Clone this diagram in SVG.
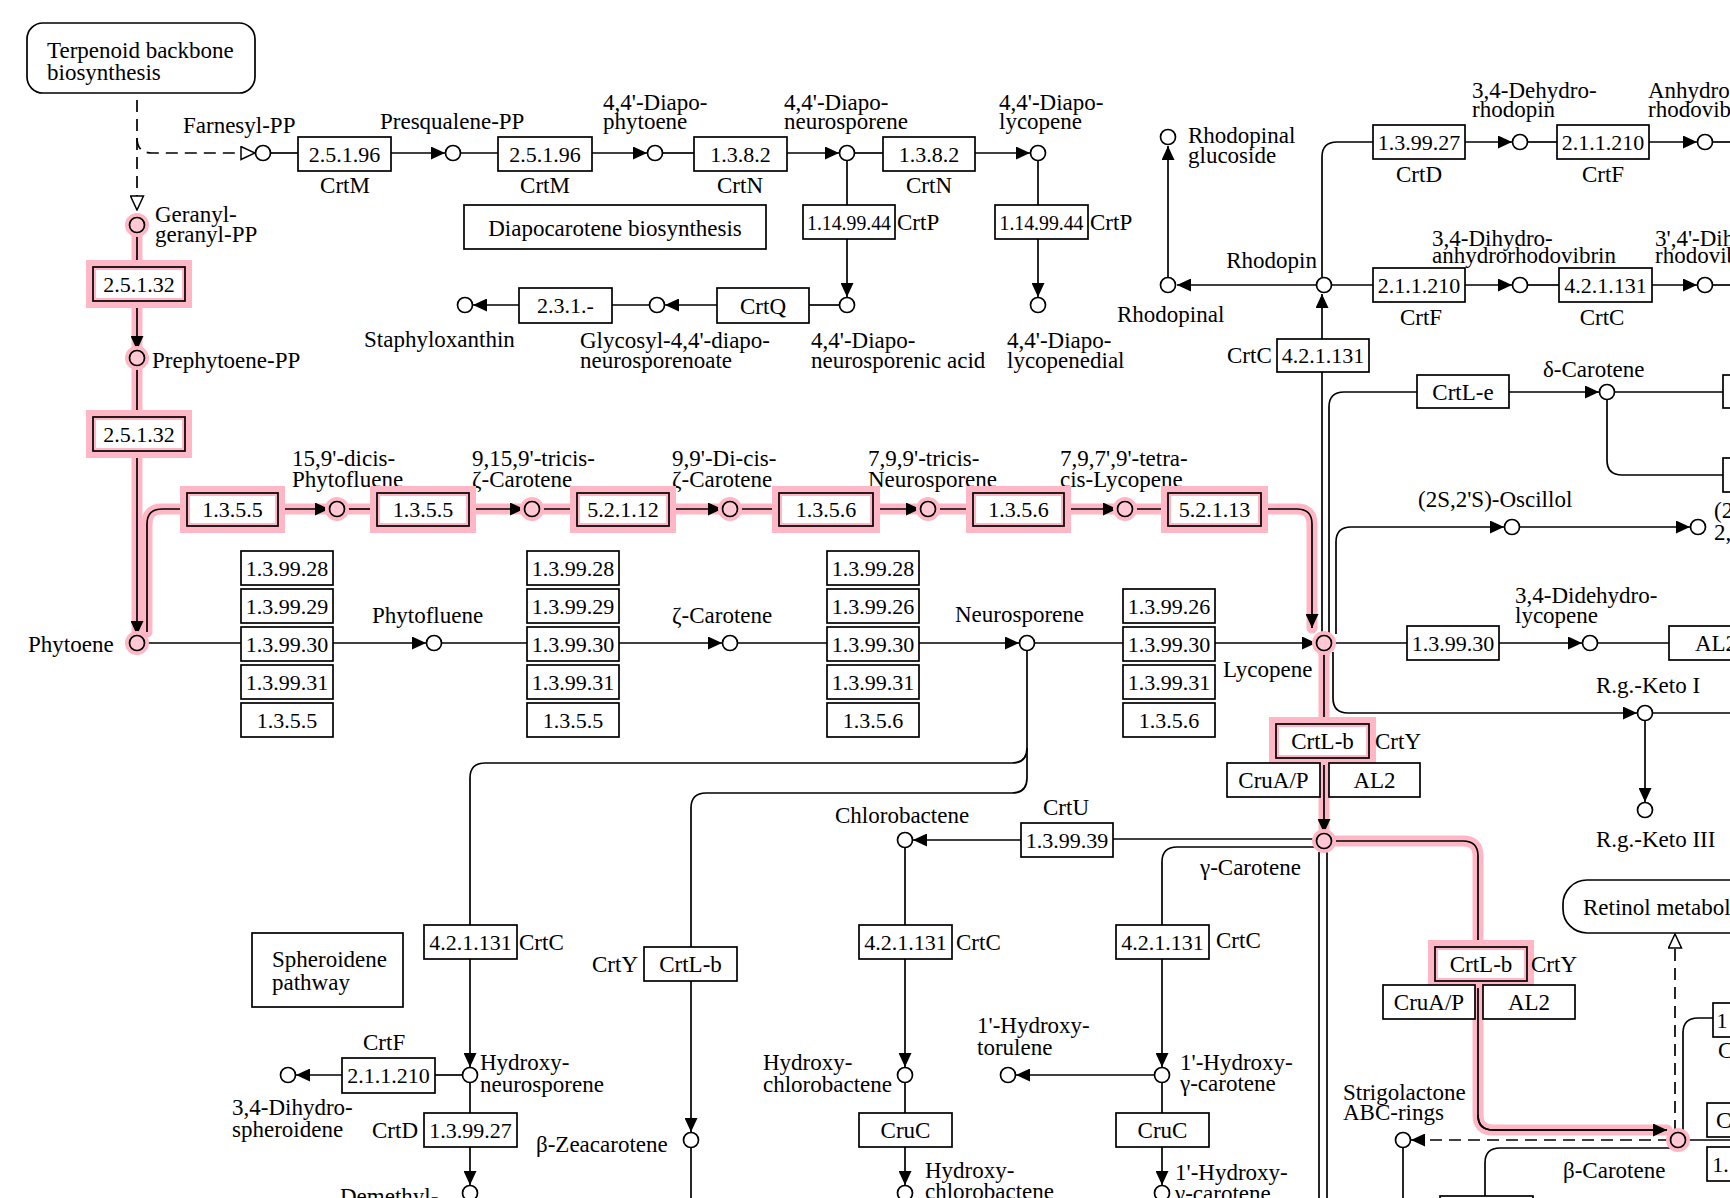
<svg xmlns="http://www.w3.org/2000/svg" width="1730" height="1198" viewBox="0 0 1730 1198">
<style>
.t{font-family:"Liberation Serif","Times New Roman",serif;font-size:23px;fill:#000}
.m{text-anchor:middle}
.e{font-family:"Liberation Serif","Times New Roman",serif;font-size:22px;text-anchor:middle;fill:#000}
.g{font-family:"Liberation Serif","Times New Roman",serif;font-size:23px;text-anchor:middle;fill:#000}
.ln{fill:none;stroke:#000;stroke-width:1.7}
.ar{marker-end:url(#a)}
.oa{marker-end:url(#o)}
.d{stroke-dasharray:12 7}
.hl{fill:none;stroke:#ffb7c5;stroke-width:11;stroke-linejoin:round;stroke-linecap:round}
.bx{fill:#fff;stroke:#000;stroke-width:1.7}
.hb{fill:#fff;stroke:#ffb7c5;stroke-width:10}
.cp{fill:#fff;stroke:#000;stroke-width:1.7}
.cph{fill:#ffc8d4;stroke:#000;stroke-width:1.7}
.ch{fill:none;stroke:#ffb7c5;stroke-width:8}
</style>
<defs>
<marker id="a" viewBox="0 0 14 13" refX="14" refY="6.5" markerWidth="14" markerHeight="13" markerUnits="userSpaceOnUse" orient="auto"><path d="M0,0L14,6.5L0,13z" fill="#000"/></marker>
<marker id="o" viewBox="-1 -1 16 15" refX="14" refY="6.5" markerWidth="16" markerHeight="15" markerUnits="userSpaceOnUse" orient="auto"><path d="M0,0L14,6.5L0,13z" fill="#fff" stroke="#000" stroke-width="1.5"/></marker>
</defs>
<rect width="1730" height="1198" fill="#fff"/>

<g id="connectors">
<g id="highlight">
<path class="hl" d="M137,225L137,643"/>
<path class="hl" d="M147,632L147,524Q147,509 162,509L1297,509Q1312,509 1312,524L1312,628"/>
<path class="hl" d="M1324,643L1324,841"/>
<path class="hl" d="M1324,841L1463,841Q1478,841 1478,856L1478,1115Q1478,1130 1493,1130L1667,1130"/>
</g>
<path class="ln d oa" d="M137,100L137,210"/>
<path class="ln d oa" d="M137,138Q137,153 152,153L255,153"/>
<path class="ln" d="M271,153L298,153"/>
<path class="ln ar" d="M391,153L445,153"/>
<path class="ln" d="M461,153L498,153"/>
<path class="ln ar" d="M592,153L647,153"/>
<path class="ln" d="M663,153L694,153"/>
<path class="ln ar" d="M787,153L839,153"/>
<path class="ln" d="M855,153L883,153"/>
<path class="ln ar" d="M975,153L1030,153"/>
<path class="ln" d="M847,161L847,205"/>
<path class="ln ar" d="M847,239L847,297"/>
<path class="ln" d="M1038,161L1038,205"/>
<path class="ln ar" d="M1038,239L1038,297"/>
<path class="ln" d="M839,305L809,305"/>
<path class="ln ar" d="M717,305L665,305"/>
<path class="ln" d="M649,305L612,305"/>
<path class="ln ar" d="M519,305L473,305"/>
<path class="ln" d="M137,233L137,267"/>
<path class="ln ar" d="M137,301L137,350"/>
<path class="ln" d="M137,366L137,417"/>
<path class="ln ar" d="M137,451L137,635"/>
<path class="ln" d="M147,632L147,524Q147,509 162,509L187,509"/>
<path class="ln ar" d="M278,509L329,509"/>
<path class="ln" d="M345,509L377,509"/>
<path class="ln ar" d="M469,509L524,509"/>
<path class="ln" d="M540,509L577,509"/>
<path class="ln ar" d="M669,509L722,509"/>
<path class="ln" d="M738,509L779,509"/>
<path class="ln ar" d="M873,509L920,509"/>
<path class="ln" d="M936,509L973,509"/>
<path class="ln ar" d="M1064,509L1117,509"/>
<path class="ln" d="M1133,509L1168,509"/>
<path class="ln ar" d="M1261,509L1297,509Q1312,509 1312,524L1312,628"/>
<path class="ln" d="M145,643L241,643"/>
<path class="ln ar" d="M333,643L426,643"/>
<path class="ln" d="M442,643L527,643"/>
<path class="ln ar" d="M619,643L722,643"/>
<path class="ln" d="M738,643L827,643"/>
<path class="ln ar" d="M919,643L1019,643"/>
<path class="ln" d="M1035,643L1123,643"/>
<path class="ln ar" d="M1215,643L1316,643"/>
<path class="ln" d="M1322,636L1322,372"/>
<path class="ln ar" d="M1322,339L1322,294"/>
<path class="ln ar" d="M1316,285L1177,285"/>
<path class="ln ar" d="M1168,277L1168,146"/>
<path class="ln" d="M1322,277L1322,157Q1322,142 1337,142L1373,142"/>
<path class="ln ar" d="M1465,142L1512,142"/>
<path class="ln" d="M1528,142L1557,142"/>
<path class="ln ar" d="M1649,142L1697,142"/>
<path class="ln" d="M1713,142L1730,142"/>
<path class="ln" d="M1332,285L1373,285"/>
<path class="ln ar" d="M1465,285L1512,285"/>
<path class="ln" d="M1528,285L1559,285"/>
<path class="ln ar" d="M1652,285L1697,285"/>
<path class="ln" d="M1713,285L1730,285"/>
<path class="ln" d="M1329,636L1329,407Q1329,392 1344,392L1417,392"/>
<path class="ln ar" d="M1509,392L1599,392"/>
<path class="ln" d="M1615,392L1723,392"/>
<path class="ln" d="M1607,400L1607,460Q1607,475 1622,475L1723,475"/>
<path class="ln ar" d="M1336,634L1336,542Q1336,527 1351,527L1504,527"/>
<path class="ln ar" d="M1520,527L1690,527"/>
<path class="ln" d="M1332,643L1407,643"/>
<path class="ln ar" d="M1499,643L1582,643"/>
<path class="ln" d="M1598,643L1669,643"/>
<path class="ln ar" d="M1333,652L1333,698Q1333,713 1348,713L1637,713"/>
<path class="ln" d="M1653,713L1730,713"/>
<path class="ln ar" d="M1645,721L1645,802"/>
<path class="ln" d="M1324,651L1324,724"/>
<path class="ln ar" d="M1324,758L1324,833"/>
<path class="ln" d="M1332,841L1463,841Q1478,841 1478,856L1478,947"/>
<path class="ln" d="M1478,981L1478,1115Q1478,1130 1493,1130L1667,1130"/>
<path class="ln ar" d="M1478,1115Q1478,1130 1493,1130L1667,1130"/>
<path class="ln" d="M1316,839L1113,839"/>
<path class="ln ar" d="M1021,840L913,840"/>
<path class="ln" d="M1316,847L1177,847Q1162,847 1162,862L1162,925"/>
<path class="ln ar" d="M1162,959L1162,1067"/>
<path class="ln ar" d="M1154,1075L1016,1075"/>
<path class="ln" d="M1162,1083L1162,1113"/>
<path class="ln ar" d="M1162,1147L1162,1185"/>
<path class="ln" d="M1319,852L1319,1198"/>
<path class="ln" d="M1327,850L1327,1198"/>
<path class="ln" d="M905,848L905,925"/>
<path class="ln ar" d="M905,959L905,1067"/>
<path class="ln" d="M905,1083L905,1113"/>
<path class="ln ar" d="M905,1147L905,1185"/>
<path class="ln" d="M1027,651L1027,748Q1027,763 1012,763L485,763Q470,763 470,778L470,925"/>
<path class="ln" d="M1027,748L1027,778Q1027,793 1012,793L706,793Q691,793 691,808L691,947"/>
<path class="ln ar" d="M691,981L691,1132"/>
<path class="ln" d="M691,1148L691,1198"/>
<path class="ln ar" d="M470,959L470,1067"/>
<path class="ln" d="M470,1083L470,1113"/>
<path class="ln ar" d="M470,1147L470,1185"/>
<path class="ln" d="M462,1075L435,1075"/>
<path class="ln ar" d="M342,1075L296,1075"/>
<path class="ln d oa" d="M1675,1132L1675,934"/>
<path class="ln d ar" d="M1670,1140L1411,1140"/>
<path class="ln" d="M1403,1148L1403,1198"/>
<path class="ln" d="M1686,1140L1730,1140"/>
<path class="ln" d="M1683,1133L1683,1033Q1683,1018 1698,1018L1713,1018"/>
<path class="ln" d="M1670,1148L1500,1148Q1485,1148 1485,1163L1485,1196"/>
</g>

<g id="map-terpenoid"><rect x="27" y="23" width="228" height="70" rx="16" class="bx"/><text class="t" x="47" y="58">Terpenoid backbone</text><text class="t" x="47" y="80">biosynthesis</text></g>
<g id="map-diapocarotene"><rect x="464" y="205" width="302" height="44" class="bx"/><text class="t m" x="615" y="236">Diapocarotene biosynthesis</text></g>
<g id="map-spheroidene"><rect x="252" y="933" width="151" height="74" class="bx"/><text class="t" x="272" y="967">Spheroidene</text><text class="t" x="272" y="990">pathway</text></g>
<g id="map-retinol"><rect x="1563" y="880" width="200" height="53" rx="24" class="bx"/><text class="t" x="1583" y="915">Retinol metabolism</text></g>

<g id="c-farnesyl"><circle cx="263" cy="153" r="7.5" class="cp"/><text class="t" x="183" y="133">Farnesyl-PP</text></g>
<g id="c-presqualene"><circle cx="453" cy="153" r="7.5" class="cp"/><text class="t" x="380" y="129">Presqualene-PP</text></g>
<g id="c-diapophytoene"><circle cx="655" cy="153" r="7.5" class="cp"/><text class="t" x="603" y="110">4,4'-Diapo-</text><text class="t" x="603" y="129">phytoene</text></g>
<g id="c-diaponeurosporene"><circle cx="847" cy="153" r="7.5" class="cp"/><text class="t" x="784" y="110">4,4'-Diapo-</text><text class="t" x="784" y="129">neurosporene</text></g>
<g id="c-diapolycopene"><circle cx="1038" cy="153" r="7.5" class="cp"/><text class="t" x="999" y="110">4,4'-Diapo-</text><text class="t" x="999" y="129">lycopene</text></g>
<g id="c-diaponeurosporenic"><circle cx="847" cy="305" r="7.5" class="cp"/><text class="t" x="811" y="348">4,4'-Diapo-</text><text class="t" x="811" y="368">neurosporenic acid</text></g>
<g id="c-diapolycopenedial"><circle cx="1038" cy="305" r="7.5" class="cp"/><text class="t" x="1007" y="348">4,4'-Diapo-</text><text class="t" x="1007" y="368">lycopenedial</text></g>
<g id="c-glycosyl"><circle cx="657" cy="305" r="7.5" class="cp"/><text class="t" x="580" y="348">Glycosyl-4,4'-diapo-</text><text class="t" x="580" y="368">neurosporenoate</text></g>
<g id="c-staphyloxanthin"><circle cx="465" cy="305" r="7.5" class="cp"/><text class="t" x="364" y="347">Staphyloxanthin</text></g>

<g id="c-ggpp"><circle cx="137" cy="225" r="8" class="ch"/><circle cx="137" cy="225" r="7.5" class="cph"/><text class="t" x="155" y="222">Geranyl-</text><text class="t" x="155" y="242">geranyl-PP</text></g>
<g id="c-prephytoene"><circle cx="137" cy="358" r="8" class="ch"/><circle cx="137" cy="358" r="7.5" class="cph"/><text class="t" x="152" y="368">Prephytoene-PP</text></g>
<g id="c-phytoene"><circle cx="137" cy="643" r="8" class="ch"/><circle cx="137" cy="643" r="7.5" class="cph"/><text class="t" x="28" y="652">Phytoene</text></g>
<g id="c-dicisphytofluene"><circle cx="337" cy="509" r="8" class="ch"/><circle cx="337" cy="509" r="7.5" class="cph"/><text class="t" x="292" y="466">15,9'-dicis-</text><text class="t" x="292" y="487">Phytofluene</text></g>
<g id="c-tricisz"><circle cx="532" cy="509" r="8" class="ch"/><circle cx="532" cy="509" r="7.5" class="cph"/><text class="t" x="472" y="466">9,15,9'-tricis-</text><text class="t" x="472" y="487">ζ-Carotene</text></g>
<g id="c-dicisz"><circle cx="730" cy="509" r="8" class="ch"/><circle cx="730" cy="509" r="7.5" class="cph"/><text class="t" x="672" y="466">9,9'-Di-cis-</text><text class="t" x="672" y="487">ζ-Carotene</text></g>
<g id="c-tricisneuro"><circle cx="928" cy="509" r="8" class="ch"/><circle cx="928" cy="509" r="7.5" class="cph"/><text class="t" x="868" y="466">7,9,9'-tricis-</text><text class="t" x="868" y="487">Neurosporene</text></g>
<g id="c-tetracislyco"><circle cx="1125" cy="509" r="8" class="ch"/><circle cx="1125" cy="509" r="7.5" class="cph"/><text class="t" x="1060" y="466">7,9,7',9'-tetra-</text><text class="t" x="1060" y="487">cis-Lycopene</text></g>
<g id="c-phytofluene"><circle cx="434" cy="643" r="7.5" class="cp"/><text class="t" x="372" y="623">Phytofluene</text></g>
<g id="c-zcarotene"><circle cx="730" cy="643" r="7.5" class="cp"/><text class="t" x="672" y="623">ζ-Carotene</text></g>
<g id="c-neurosporene"><circle cx="1027" cy="643" r="7.5" class="cp"/><text class="t" x="955" y="622">Neurosporene</text></g>
<g id="c-lycopene"><circle cx="1324" cy="643" r="8" class="ch"/><circle cx="1324" cy="643" r="7.5" class="cph"/><text class="t" x="1223" y="677">Lycopene</text></g>
<g id="c-rhodopinalglucoside"><circle cx="1168" cy="137" r="7.5" class="cp"/><text class="t" x="1188" y="143">Rhodopinal</text><text class="t" x="1188" y="163">glucoside</text></g>
<g id="c-rhodopinal"><circle cx="1168" cy="285" r="7.5" class="cp"/><text class="t" x="1117" y="322">Rhodopinal</text></g>
<g id="c-rhodopin"><circle cx="1324" cy="285" r="7.5" class="cp"/><text class="t" x="1317" y="268" text-anchor="end">Rhodopin</text></g>
<g id="c-dehydrorhodopin"><circle cx="1520" cy="142" r="7.5" class="cp"/><text class="t" x="1472" y="98">3,4-Dehydro-</text><text class="t" x="1472" y="117">rhodopin</text></g>
<g id="c-anhydrorhodovibrin"><circle cx="1705" cy="142" r="7.5" class="cp"/><text class="t" x="1648" y="98">Anhydro-</text><text class="t" x="1648" y="117">rhodovibrin</text></g>
<g id="c-dihydroanhydro"><circle cx="1520" cy="285" r="7.5" class="cp"/><text class="t" x="1432" y="246">3,4-Dihydro-</text><text class="t" x="1432" y="263">anhydrorhodovibrin</text></g>
<g id="c-dihydrorhodovibrin"><circle cx="1705" cy="285" r="7.5" class="cp"/><text class="t" x="1655" y="246">3',4'-Dihydro-</text><text class="t" x="1655" y="263">rhodovibrin</text></g>
<g id="c-deltacarotene"><circle cx="1607" cy="392" r="7.5" class="cp"/><text class="t" x="1543" y="377">δ-Carotene</text></g>
<g id="c-oscillol"><circle cx="1512" cy="527" r="7.5" class="cp"/><text class="t" x="1418" y="507">(2S,2'S)-Oscillol</text></g>
<g id="c-oscillol2"><circle cx="1698" cy="527" r="7.5" class="cp"/><text class="t" x="1714" y="518">(2</text><text class="t" x="1714" y="540">2,</text></g>
<g id="c-didehydrolycopene"><circle cx="1590" cy="643" r="7.5" class="cp"/><text class="t" x="1515" y="603">3,4-Didehydro-</text><text class="t" x="1515" y="623">lycopene</text></g>
<g id="c-ketoi"><circle cx="1645" cy="713" r="7.5" class="cp"/><text class="t" x="1596" y="693">R.g.-Keto I</text></g>
<g id="c-ketoiii"><circle cx="1645" cy="810" r="7.5" class="cp"/><text class="t" x="1596" y="847">R.g.-Keto III</text></g>
<g id="c-gammacarotene"><circle cx="1324" cy="841" r="8" class="ch"/><circle cx="1324" cy="841" r="7.5" class="cph"/><text class="t" x="1200" y="875">γ-Carotene</text></g>
<g id="c-chlorobactene"><circle cx="905" cy="840" r="7.5" class="cp"/><text class="t" x="835" y="823">Chlorobactene</text></g>
<g id="c-hydroxychlorobactene"><circle cx="905" cy="1075" r="7.5" class="cp"/><text class="t" x="763" y="1070">Hydroxy-</text><text class="t" x="763" y="1092">chlorobactene</text></g>
<g id="c-hydroxychlorobactene2"><circle cx="905" cy="1193" r="7.5" class="cp"/><text class="t" x="925" y="1178">Hydroxy-</text><text class="t" x="925" y="1199">chlorobactene</text></g>
<g id="c-hydroxytorulene"><circle cx="1008" cy="1075" r="7.5" class="cp"/><text class="t" x="977" y="1033">1'-Hydroxy-</text><text class="t" x="977" y="1055">torulene</text></g>
<g id="c-hydroxygamma"><circle cx="1162" cy="1075" r="7.5" class="cp"/><text class="t" x="1180" y="1070">1'-Hydroxy-</text><text class="t" x="1180" y="1091">γ-carotene</text></g>
<g id="c-hydroxygamma2"><circle cx="1162" cy="1193" r="7.5" class="cp"/><text class="t" x="1175" y="1180">1'-Hydroxy-</text><text class="t" x="1175" y="1201">γ-carotene</text></g>
<g id="c-hydroxyneurosporene"><circle cx="470" cy="1075" r="7.5" class="cp"/><text class="t" x="480" y="1070">Hydroxy-</text><text class="t" x="480" y="1092">neurosporene</text></g>
<g id="c-dihydrospheroidene"><circle cx="288" cy="1075" r="7.5" class="cp"/><text class="t" x="232" y="1115">3,4-Dihydro-</text><text class="t" x="232" y="1137">spheroidene</text></g>
<g id="c-demethyl"><circle cx="470" cy="1193" r="7.5" class="cp"/><text class="t" x="340" y="1204">Demethyl-</text></g>
<g id="c-bzeacarotene"><circle cx="691" cy="1140" r="7.5" class="cp"/><text class="t" x="536" y="1152">β-Zeacarotene</text></g>
<g id="c-strigolactone"><circle cx="1403" cy="1140" r="7.5" class="cp"/><text class="t" x="1343" y="1100">Strigolactone</text><text class="t" x="1343" y="1120">ABC-rings</text></g>
<g id="c-bcarotene"><circle cx="1678" cy="1140" r="8" class="ch"/><circle cx="1678" cy="1140" r="7.5" class="cph"/><text class="t" x="1563" y="1178">β-Carotene</text></g>

<g id="e-crtm1"><rect x="298" y="137" width="93" height="34" class="bx"/><text class="e" x="344.5" y="162">2.5.1.96</text><text class="t m" x="345" y="193">CrtM</text></g>
<g id="e-crtm2"><rect x="498" y="137" width="94" height="34" class="bx"/><text class="e" x="545" y="162">2.5.1.96</text><text class="t m" x="545" y="193">CrtM</text></g>
<g id="e-crtn1"><rect x="694" y="137" width="93" height="34" class="bx"/><text class="e" x="740.5" y="162">1.3.8.2</text><text class="t m" x="740" y="193">CrtN</text></g>
<g id="e-crtn2"><rect x="883" y="137" width="92" height="34" class="bx"/><text class="e" x="929" y="162">1.3.8.2</text><text class="t m" x="929" y="193">CrtN</text></g>
<g id="e-crtp1"><rect x="803" y="205" width="92" height="34" class="bx"/><text class="e" x="849" y="230" textLength="84" lengthAdjust="spacingAndGlyphs">1.14.99.44</text><text class="t" x="897" y="230">CrtP</text></g>
<g id="e-crtp2"><rect x="995" y="205" width="93" height="34" class="bx"/><text class="e" x="1041.5" y="230" textLength="84" lengthAdjust="spacingAndGlyphs">1.14.99.44</text><text class="t" x="1090" y="230">CrtP</text></g>
<g id="e-crtq"><rect x="717" y="288" width="92" height="35" class="bx"/><text class="g" x="763" y="314">CrtQ</text></g>
<g id="e-2311"><rect x="519" y="288" width="93" height="35" class="bx"/><text class="e" x="565.5" y="313">2.3.1.-</text></g>

<g id="e-ggps1"><rect x="91" y="265" width="96" height="38" class="hb"/><rect x="93" y="267" width="92" height="34" class="bx" fill="none" style="fill:none"/><text class="e" x="139" y="292">2.5.1.32</text></g>
<g id="e-ggps2"><rect x="91" y="415" width="96" height="38" class="hb"/><rect x="93" y="417" width="92" height="34" style="fill:none;stroke:#000;stroke-width:1.7"/><text class="e" x="139" y="442">2.5.1.32</text></g>
<g id="e-pds1"><rect x="185" y="491" width="95" height="37" class="hb"/><rect x="187" y="493" width="91" height="33" style="fill:none;stroke:#000;stroke-width:1.7"/><text class="e" x="232.5" y="517">1.3.5.5</text></g>
<g id="e-pds2"><rect x="375" y="491" width="96" height="37" class="hb"/><rect x="377" y="493" width="92" height="33" style="fill:none;stroke:#000;stroke-width:1.7"/><text class="e" x="423" y="517">1.3.5.5</text></g>
<g id="e-ziso"><rect x="575" y="491" width="96" height="37" class="hb"/><rect x="577" y="493" width="92" height="33" style="fill:none;stroke:#000;stroke-width:1.7"/><text class="e" x="623" y="517">5.2.1.12</text></g>
<g id="e-zds1"><rect x="777" y="491" width="98" height="37" class="hb"/><rect x="779" y="493" width="94" height="33" style="fill:none;stroke:#000;stroke-width:1.7"/><text class="e" x="826" y="517">1.3.5.6</text></g>
<g id="e-zds2"><rect x="971" y="491" width="95" height="37" class="hb"/><rect x="973" y="493" width="91" height="33" style="fill:none;stroke:#000;stroke-width:1.7"/><text class="e" x="1018.5" y="517">1.3.5.6</text></g>
<g id="e-crtiso"><rect x="1166" y="491" width="97" height="37" class="hb"/><rect x="1168" y="493" width="93" height="33" style="fill:none;stroke:#000;stroke-width:1.7"/><text class="e" x="1214.5" y="517">5.2.1.13</text></g>

<g id="e-stack1">
<rect x="241" y="551" width="92" height="34" class="bx"/><text class="e" x="287" y="576">1.3.99.28</text>
<rect x="241" y="589" width="92" height="34" class="bx"/><text class="e" x="287" y="614">1.3.99.29</text>
<rect x="241" y="627" width="92" height="34" class="bx"/><text class="e" x="287" y="652">1.3.99.30</text>
<rect x="241" y="665" width="92" height="34" class="bx"/><text class="e" x="287" y="690">1.3.99.31</text>
<rect x="241" y="703" width="92" height="34" class="bx"/><text class="e" x="287" y="728">1.3.5.5</text>
</g>
<g id="e-stack2">
<rect x="527" y="551" width="92" height="34" class="bx"/><text class="e" x="573" y="576">1.3.99.28</text>
<rect x="527" y="589" width="92" height="34" class="bx"/><text class="e" x="573" y="614">1.3.99.29</text>
<rect x="527" y="627" width="92" height="34" class="bx"/><text class="e" x="573" y="652">1.3.99.30</text>
<rect x="527" y="665" width="92" height="34" class="bx"/><text class="e" x="573" y="690">1.3.99.31</text>
<rect x="527" y="703" width="92" height="34" class="bx"/><text class="e" x="573" y="728">1.3.5.5</text>
</g>
<g id="e-stack3">
<rect x="827" y="551" width="92" height="34" class="bx"/><text class="e" x="873" y="576">1.3.99.28</text>
<rect x="827" y="589" width="92" height="34" class="bx"/><text class="e" x="873" y="614">1.3.99.26</text>
<rect x="827" y="627" width="92" height="34" class="bx"/><text class="e" x="873" y="652">1.3.99.30</text>
<rect x="827" y="665" width="92" height="34" class="bx"/><text class="e" x="873" y="690">1.3.99.31</text>
<rect x="827" y="703" width="92" height="34" class="bx"/><text class="e" x="873" y="728">1.3.5.6</text>
</g>
<g id="e-stack4">
<rect x="1123" y="589" width="92" height="34" class="bx"/><text class="e" x="1169" y="614">1.3.99.26</text>
<rect x="1123" y="627" width="92" height="34" class="bx"/><text class="e" x="1169" y="652">1.3.99.30</text>
<rect x="1123" y="665" width="92" height="34" class="bx"/><text class="e" x="1169" y="690">1.3.99.31</text>
<rect x="1123" y="703" width="92" height="34" class="bx"/><text class="e" x="1169" y="728">1.3.5.6</text>
</g>

<g id="e-crtc-rhodopin"><rect x="1277" y="339" width="92" height="33" class="bx"/><text class="e" x="1323" y="363">4.2.1.131</text><text class="t" x="1227" y="363">CrtC</text></g>
<g id="e-crtd-top"><rect x="1373" y="125" width="92" height="34" class="bx"/><text class="e" x="1419" y="150">1.3.99.27</text><text class="t m" x="1419" y="182">CrtD</text></g>
<g id="e-crtf-top"><rect x="1557" y="125" width="92" height="34" class="bx"/><text class="e" x="1603" y="150">2.1.1.210</text><text class="t m" x="1603" y="182">CrtF</text></g>
<g id="e-crtf-mid"><rect x="1373" y="268" width="92" height="34" class="bx"/><text class="e" x="1419" y="293">2.1.1.210</text><text class="t m" x="1421" y="325">CrtF</text></g>
<g id="e-crtc-mid"><rect x="1559" y="268" width="93" height="34" class="bx"/><text class="e" x="1605.5" y="293">4.2.1.131</text><text class="t m" x="1602" y="325">CrtC</text></g>
<g id="e-crtle"><rect x="1417" y="375" width="92" height="33" class="bx"/><text class="g" x="1463" y="400">CrtL-e</text></g>
<g id="e-right1"><rect x="1723" y="375" width="40" height="33" class="bx"/></g>
<g id="e-right2"><rect x="1723" y="458" width="40" height="34" class="bx"/></g>
<g id="e-crti-lyco"><rect x="1407" y="626" width="92" height="34" class="bx"/><text class="e" x="1453" y="651">1.3.99.30</text></g>
<g id="e-al2-right"><rect x="1669" y="626" width="100" height="34" class="bx"/><text class="g" x="1716" y="651">AL2</text></g>
<g id="e-crtlb1"><rect x="1274" y="722" width="97" height="38" class="hb"/><rect x="1276" y="724" width="93" height="34" style="fill:none;stroke:#000;stroke-width:1.7"/><text class="g" x="1322.5" y="749">CrtL-b</text><text class="t" x="1375" y="749">CrtY</text></g>
<g id="e-crua1"><rect x="1227" y="763" width="93" height="34" class="bx"/><text class="g" x="1273.5" y="788">CruA/P</text></g>
<g id="e-al2-1"><rect x="1329" y="763" width="91" height="34" class="bx"/><text class="g" x="1374.5" y="788">AL2</text></g>
<g id="e-crtu"><rect x="1021" y="823" width="92" height="34" class="bx"/><text class="e" x="1067" y="848">1.3.99.39</text><text class="t" x="1043" y="815">CrtU</text></g>
<g id="e-crtc-a"><rect x="424" y="925" width="93" height="34" class="bx"/><text class="e" x="470.5" y="950">4.2.1.131</text><text class="t" x="519" y="950">CrtC</text></g>
<g id="e-crtlb2"><rect x="644" y="947" width="93" height="34" class="bx"/><text class="g" x="690.5" y="972">CrtL-b</text><text class="t" x="592" y="972">CrtY</text></g>
<g id="e-crtc-b"><rect x="859" y="925" width="93" height="34" class="bx"/><text class="e" x="905.5" y="950">4.2.1.131</text><text class="t" x="956" y="950">CrtC</text></g>
<g id="e-crtc-c"><rect x="1116" y="925" width="93" height="34" class="bx"/><text class="e" x="1162.5" y="950">4.2.1.131</text><text class="t" x="1216" y="948">CrtC</text></g>
<g id="e-crtlb3"><rect x="1433" y="945" width="96" height="38" class="hb"/><rect x="1435" y="947" width="92" height="34" style="fill:none;stroke:#000;stroke-width:1.7"/><text class="g" x="1481" y="972">CrtL-b</text><text class="t" x="1531" y="972">CrtY</text></g>
<g id="e-crua2"><rect x="1383" y="985" width="92" height="34" class="bx"/><text class="g" x="1429" y="1010">CruA/P</text></g>
<g id="e-al2-2"><rect x="1483" y="985" width="92" height="34" class="bx"/><text class="g" x="1529" y="1010">AL2</text></g>
<g id="e-crtf-low"><rect x="342" y="1058" width="93" height="35" class="bx"/><text class="e" x="388.5" y="1083">2.1.1.210</text><text class="t" x="363" y="1050">CrtF</text></g>
<g id="e-crtd-low"><rect x="424" y="1113" width="93" height="34" class="bx"/><text class="e" x="470.5" y="1138">1.3.99.27</text><text class="t" x="372" y="1138">CrtD</text></g>
<g id="e-cruc1"><rect x="859" y="1113" width="93" height="34" class="bx"/><text class="g" x="905.5" y="1138">CruC</text></g>
<g id="e-cruc2"><rect x="1116" y="1113" width="93" height="34" class="bx"/><text class="g" x="1162.5" y="1138">CruC</text></g>
<g id="e-right3"><rect x="1713" y="1003" width="40" height="34" class="bx"/><text class="e" x="1722" y="1028">1</text><text class="t" x="1718" y="1058">C</text></g>
<g id="e-right4"><rect x="1707" y="1103" width="40" height="34" class="bx"/><text class="t" x="1716" y="1128">C</text></g>
<g id="e-right5"><rect x="1707" y="1147" width="40" height="34" class="bx"/><text class="e" x="1726" y="1172">1.1</text></g>
<g id="e-bottom"><rect x="1440" y="1196" width="93" height="34" class="bx"/></g>
</svg>
